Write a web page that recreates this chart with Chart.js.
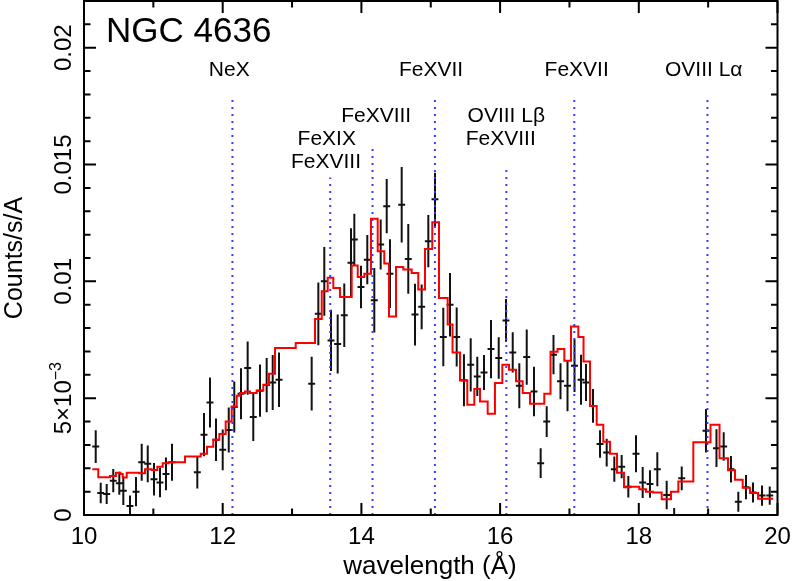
<!DOCTYPE html>
<html><head><meta charset="utf-8">
<title>NGC 4636 spectrum</title>
<script src="https://cdn.jsdelivr.net/npm/chart.js@4.4.1/dist/chart.umd.min.js"></script>
<style>html,body{margin:0;padding:0;background:#fff}canvas{display:block}</style>
</head><body>
<canvas id="chart" width="806" height="581"></canvas>
<script>
'use strict';

// data points: wavelength (A), rate (1e-3 counts/s/A), 1-sigma error (1e-3)
var WAVE = [10.169,10.241,10.327,10.422,10.509,10.567,10.663,10.750,10.832,10.919,
  11.009,11.096,11.182,11.269,11.634,11.730,11.817,11.903,12.000,12.087,
  12.167,12.264,12.360,12.441,12.538,12.634,12.721,12.812,13.283,13.379,
  13.465,13.562,13.658,13.753,13.850,13.898,13.994,14.085,14.186,14.278,
  14.365,14.412,14.581,14.676,14.773,14.869,14.965,15.061,15.181,15.278,
  15.374,15.479,15.576,15.671,15.768,15.869,15.980,16.085,16.182,16.277,
  16.384,16.489,16.585,16.672,16.770,16.871,16.972,17.073,17.167,17.239,
  17.340,17.441,17.537,17.647,17.753,17.849,17.960,18.056,18.161,18.267,
  18.402,18.510,18.619,18.969,19.120,19.224,19.329,19.435,19.546,19.647,
  19.777,19.888];
var RATE = [2.93,0.94,0.90,1.47,1.36,1.04,0.39,1.00,2.26,2.19,
  1.53,1.39,1.76,2.26,1.83,3.44,4.82,3.22,2.79,3.64,
  4.62,5.19,6.29,4.19,5.32,5.56,5.67,5.79,5.62,8.61,
  10.0,7.47,7.32,8.55,10.8,11.79,9.76,10.93,9.19,11.58,
  13.22,10.33,13.28,10.96,8.58,8.91,11.72,13.51,7.62,9.0,
  7.62,5.77,6.43,5.93,6.10,7.10,6.72,8.33,6.96,5.53,
  6.76,5.29,2.22,4.0,6.86,5.72,5.53,6.39,5.79,5.67,
  4.67,3.04,2.67,1.96,2.07,1.21,2.62,1.39,1.33,1.96,
  0.86,-0.05,1.57,3.61,2.86,2.93,1.96,0.57,1.19,0.96,
  0.83,0.83];
var ERR = [0.70,0.44,0.43,0.50,0.49,0.61,0.44,0.63,0.79,0.79,
  0.70,0.63,0.70,0.79,0.70,0.93,1.07,0.91,0.87,0.96,
  1.09,1.09,1.14,1.02,1.12,1.16,1.18,1.17,1.15,1.34,
  1.47,1.31,1.26,1.36,1.47,1.10,0.91,1.05,1.38,1.07,
  1.16,1.47,1.62,1.49,1.32,0.96,1.12,1.14,1.25,1.36,
  1.26,1.11,1.14,0.84,0.75,1.25,0.89,0.91,0.86,0.96,
  1.18,1.06,0.64,0.66,0.84,0.77,1.09,1.13,1.07,0.79,
  0.72,0.59,0.59,0.54,0.50,0.46,0.79,0.66,0.59,0.73,
  0.61,0.35,0.51,0.93,0.81,0.61,0.57,0.43,0.52,0.43,
  0.43,0.39];
var BIN_HALF = 0.05;

// model histogram: left bin edges (A) and levels (1e-3), last edge closes the curve
var MODEL_EDGE = [10.120,10.206,10.375,10.461,10.526,10.558,10.616,10.797,10.880,10.976,
  11.057,11.135,11.216,11.456,11.683,11.774,11.864,11.951,12.043,12.130,
  12.202,12.249,12.322,12.394,12.490,12.585,12.668,12.754,13.053,13.331,
  13.428,13.514,13.595,13.691,13.860,13.947,14.042,14.138,14.235,14.330,
  14.398,14.499,14.604,14.725,14.820,14.917,15.022,15.119,15.244,15.314,
  15.422,15.527,15.628,15.710,15.821,15.926,16.032,16.128,16.229,16.326,
  16.431,16.637,16.727,16.828,16.926,17.022,17.128,17.203,17.296,17.393,
  17.488,17.585,17.686,17.787,17.873,18.007,18.104,18.205,18.330,18.464,
  18.570,18.786,19.034,19.164,19.286,19.387,19.498,19.603,19.719,19.939];
var MODEL_LEVEL = [1.96,1.62,1.67,1.81,1.76,1.60,1.81,1.79,1.96,1.93,
  2.07,2.22,2.26,2.50,2.62,2.92,3.22,3.47,4.00,4.64,
  5.10,5.22,5.29,5.22,5.33,5.57,6.05,7.15,7.36,8.39,
  9.58,10.15,9.72,9.33,10.68,10.19,10.33,12.68,11.29,10.76,
  8.50,10.62,10.51,10.36,9.65,11.39,12.53,9.29,8.15,6.95,
  5.76,4.72,5.39,4.86,4.33,5.65,6.43,6.22,5.72,5.22,
  4.76,5.19,6.99,7.11,6.60,8.07,7.62,6.57,4.67,3.86,
  3.14,2.62,1.81,1.19,1.21,1.10,1.00,0.96,0.67,1.00,
  1.43,3.11,3.86,2.43,1.92,1.51,1.17,0.94,0.70];

// line identifications (dotted markers)
var LINE_WAVE = [12.14, 13.55, 14.16, 15.06, 16.09, 17.07, 18.99];
var LINE_TOP = [17.77, 14.45, 15.77, 17.77, 14.79, 17.77, 17.77];
var LABEL_TEXT = ['NeX', 'FeXVII', 'FeXVII', 'OVIII L\u03b1', 'FeXVIII', 'OVIII L\u03b2', 'FeXIX', 'FeXVIII', 'FeXVIII'];
var LABEL_X = [12.095, 15.004, 17.104, 18.936, 14.213, 16.089, 13.500, 16.009, 13.490];
var LABEL_Y = [19.04, 19.04, 19.04, 19.04, 17.07, 17.07, 16.08, 16.08, 15.09];

var X_TICKS = [10, 12, 14, 16, 18, 20];
var Y_TICKS = [0, 5, 10, 15, 20];
var Y_TICK_LABELS = ['0', '5\u00d710^\u22123', '0.01', '0.015', '0.02'];

var FONT = '"Liberation Sans", Arial, Helvetica, sans-serif';

var modelPts = MODEL_EDGE.map(function(x, i) {
  return {x: x, y: MODEL_LEVEL[Math.min(i, MODEL_LEVEL.length - 1)]};
});

var datasets = LINE_WAVE.map(function(w, i) {
  return {
    data: [{x: w, y: 0}, {x: w, y: LINE_TOP[i]}],
    borderColor: '#3b3bff', borderWidth: 2, borderDash: [2, 5],
    pointRadius: 0, fill: false
  };
});
datasets.push({
  data: modelPts, borderColor: '#ff0000', borderWidth: 2,
  stepped: 'before', pointRadius: 0, fill: false
});

var errorBars = {
  id: 'errorBars',
  beforeDatasetsDraw: function(chart) {
    var ctx = chart.ctx, xs = chart.scales.x, ys = chart.scales.y, a = chart.chartArea;
    ctx.save();
    ctx.beginPath();
    ctx.rect(a.left, a.top, a.right - a.left, a.bottom - a.top);
    ctx.clip();
    ctx.strokeStyle = '#111';
    ctx.lineWidth = 2;
    ctx.beginPath();
    for (var i = 0; i < WAVE.length; i++) {
      var px = xs.getPixelForValue(WAVE[i]);
      var py = ys.getPixelForValue(RATE[i]);
      ctx.moveTo(px, ys.getPixelForValue(RATE[i] - ERR[i]));
      ctx.lineTo(px, ys.getPixelForValue(RATE[i] + ERR[i]));
      ctx.moveTo(xs.getPixelForValue(WAVE[i] - BIN_HALF), py);
      ctx.lineTo(xs.getPixelForValue(WAVE[i] + BIN_HALF), py);
    }
    ctx.stroke();
    ctx.restore();
  }
};

var frame = {
  id: 'frame',
  afterDraw: function(chart) {
    var ctx = chart.ctx, xs = chart.scales.x, ys = chart.scales.y, a = chart.chartArea;
    ctx.save();
    ctx.strokeStyle = '#000';
    ctx.lineWidth = 2;
    ctx.strokeRect(a.left, a.top, a.right - a.left, a.bottom - a.top);
    ctx.beginPath();
    var v, p, len;
    for (v = 10; v <= 20; v++) {
      p = xs.getPixelForValue(v);
      len = v % 2 === 0 ? 12 : 6.5;
      ctx.moveTo(p, a.bottom); ctx.lineTo(p, a.bottom - len);
      ctx.moveTo(p, a.top); ctx.lineTo(p, a.top + len);
    }
    for (v = 0; v <= 22; v++) {
      p = ys.getPixelForValue(v);
      len = v % 5 === 0 ? 12 : 6.5;
      ctx.moveTo(a.left, p); ctx.lineTo(a.left + len, p);
      ctx.moveTo(a.right, p); ctx.lineTo(a.right - len, p);
    }
    ctx.stroke();

    ctx.fillStyle = '#000';
    // title
    ctx.font = '35px ' + FONT;
    ctx.textAlign = 'left';
    ctx.textBaseline = 'alphabetic';
    ctx.fillText('NGC 4636', 106, 41.5);

    // line labels
    ctx.font = '21px ' + FONT;
    ctx.textAlign = 'center';
    ctx.textBaseline = 'middle';
    LABEL_TEXT.forEach(function(t, i) {
      ctx.fillText(t, xs.getPixelForValue(LABEL_X[i]), ys.getPixelForValue(LABEL_Y[i]));
    });

    // x tick labels
    ctx.font = '24px ' + FONT;
    X_TICKS.forEach(function(t) {
      ctx.fillText(String(t), xs.getPixelForValue(t), 537);
    });
    ctx.font = '26px ' + FONT;
    ctx.fillText('wavelength (\u00c5)', 430, 567);

    // y tick labels (rotated)
    Y_TICKS.forEach(function(t, i) {
      var parts = Y_TICK_LABELS[i].split('^');
      ctx.save();
      ctx.translate(71, ys.getPixelForValue(t));
      ctx.rotate(-Math.PI / 2);
      ctx.textAlign = 'left';
      ctx.textBaseline = 'alphabetic';
      ctx.font = '24px ' + FONT;
      var w1 = ctx.measureText(parts[0]).width;
      var w2 = 0;
      if (parts[1]) {
        ctx.font = '16px ' + FONT;
        w2 = ctx.measureText(parts[1]).width;
      }
      var x0 = -(w1 + w2) / 2;
      ctx.font = '24px ' + FONT;
      ctx.fillText(parts[0], x0, 0);
      if (parts[1]) {
        ctx.font = '16px ' + FONT;
        ctx.fillText(parts[1], x0 + w1, -10);
      }
      ctx.restore();
    });

    // y title
    ctx.save();
    ctx.translate(22, 258);
    ctx.rotate(-Math.PI / 2);
    ctx.textAlign = 'center';
    ctx.textBaseline = 'alphabetic';
    ctx.font = '25px ' + FONT;
    ctx.fillText('Counts/s/A', 0, 0);
    ctx.restore();
    ctx.restore();
  }
};

new Chart(document.getElementById('chart').getContext('2d'), {
  type: 'line',
  data: {datasets: datasets},
  options: {
    responsive: false,
    animation: false,
    devicePixelRatio: 1,
    layout: {padding: {top: 1, right: 28.5, left: 0, bottom: 0}},
    plugins: {legend: {display: false}, tooltip: {enabled: false}},
    scales: {
      x: {
        type: 'linear', min: 10, max: 20,
        grid: {display: false}, border: {display: false},
        ticks: {display: false},
        afterFit: function(s) { s.height = 66; }
      },
      y: {
        type: 'linear', min: 0, max: 22,
        grid: {display: false}, border: {display: false},
        ticks: {display: false},
        afterFit: function(s) { s.width = 84; }
      }
    }
  },
  plugins: [errorBars, frame]
});
</script></body></html>
